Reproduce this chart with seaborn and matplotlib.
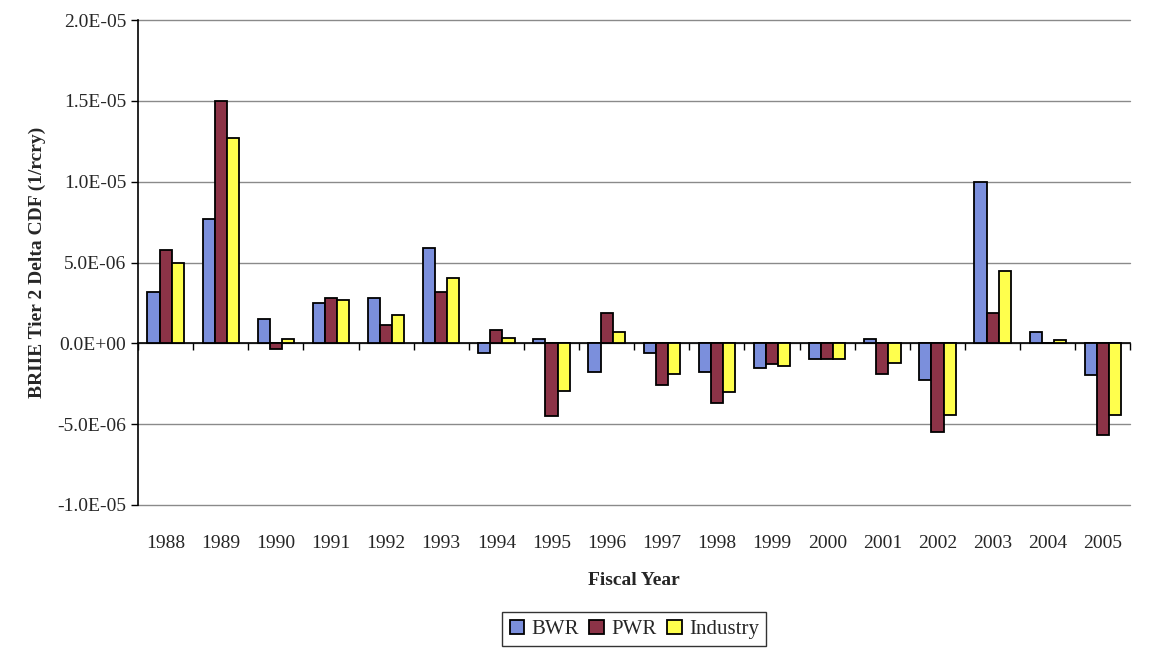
import numpy as np
import pandas as pd
import matplotlib
matplotlib.use("Agg")
import matplotlib.pyplot as plt
import seaborn as sns

years = [str(y) for y in range(1988, 2006)]
bwr = [3.2e-6, 7.7e-6, 1.5e-6, 2.5e-6, 2.8e-6, 5.9e-6, -0.6e-6, 0.25e-6, -1.8e-6,
       -0.6e-6, -1.8e-6, -1.55e-6, -0.95e-6, 0.25e-6, -2.25e-6, 1.0e-5, 0.7e-6, -1.95e-6]
pwr = [5.8e-6, 1.5e-5, -0.35e-6, 2.8e-6, 1.15e-6, 3.2e-6, 0.8e-6, -4.5e-6, 1.9e-6,
       -2.6e-6, -3.7e-6, -1.3e-6, -0.95e-6, -1.9e-6, -5.5e-6, 1.85e-6, 0.0, -5.65e-6]
industry = [5.0e-6, 1.27e-5, 0.25e-6, 2.7e-6, 1.75e-6, 4.05e-6, 0.35e-6, -2.95e-6, 0.7e-6,
            -1.9e-6, -3.0e-6, -1.4e-6, -0.95e-6, -1.2e-6, -4.45e-6, 4.5e-6, 0.2e-6, -4.45e-6]
series = ["BWR", "PWR", "Industry"]
colors = ["#7b8fdc", "#8c3347", "#ffff4d"]

df = pd.DataFrame({"year": years * 3,
                   "value": bwr + pwr + industry,
                   "series": [s for s in series for _ in years]})

sns.set_style("white")
plt.rcParams["font.family"] = ["Liberation Serif", "DejaVu Serif"]

fig = plt.figure(figsize=(11.5, 6.49), dpi=100)
ax = fig.add_axes([0.12, 0.222, 0.863, 0.747])

sns.barplot(data=df, x="year", y="value", hue="series", palette=colors, saturation=1,
            width=0.66, edgecolor="black", linewidth=1.3, ax=ax, legend=True)

ax.set_ylim(-1.0e-5, 2.0e-5)
ax.set_xlim(-0.5, len(years) - 0.5)
yticks = np.arange(-1.0e-5, 2.01e-5, 5e-6)
ax.set_yticks(yticks)
ax.set_yticklabels([f"{v:.1E}" for v in yticks], fontsize=14)
for v in yticks:
    ax.axhline(v, color="#8a8a8a", linewidth=1.0, zorder=0, clip_on=False)
ax.tick_params(axis="y", direction="out", length=5, width=1, color="black", left=True)
ax.tick_params(axis="x", length=0, labelsize=14, pad=22)

for side in ["top", "right", "bottom"]:
    ax.spines[side].set_visible(False)
ax.spines["left"].set_color("black")
ax.spines["left"].set_linewidth(1.2)

# category axis crossing at zero
zero_frac = (0 - ax.get_ylim()[0]) / (ax.get_ylim()[1] - ax.get_ylim()[0])
sec = ax.secondary_xaxis(zero_frac)
sec.set_xticks(np.arange(-0.5, len(years) + 0.5, 1))
sec.set_xticklabels([])
sec.tick_params(direction="out", length=5, width=1, color="black")
sec.spines["bottom"].set_color("black")
sec.spines["bottom"].set_linewidth(1.2)

ax.set_xlabel("Fiscal Year", fontsize=14, fontweight="bold", labelpad=14)
ax.set_ylabel("BRIIE Tier 2 Delta CDF (1/rcry)", fontsize=14, fontweight="bold", labelpad=8)

leg = ax.legend(loc="upper center", bbox_to_anchor=(0.5, -0.2), ncol=3,
                fontsize=15, frameon=True, fancybox=False, edgecolor="black",
                handlelength=0.7, handleheight=0.7, handletextpad=0.35,
                columnspacing=0.5, borderpad=0.35)
leg.get_frame().set_linewidth(1.0)

fig.savefig("out.png", dpi=100)
